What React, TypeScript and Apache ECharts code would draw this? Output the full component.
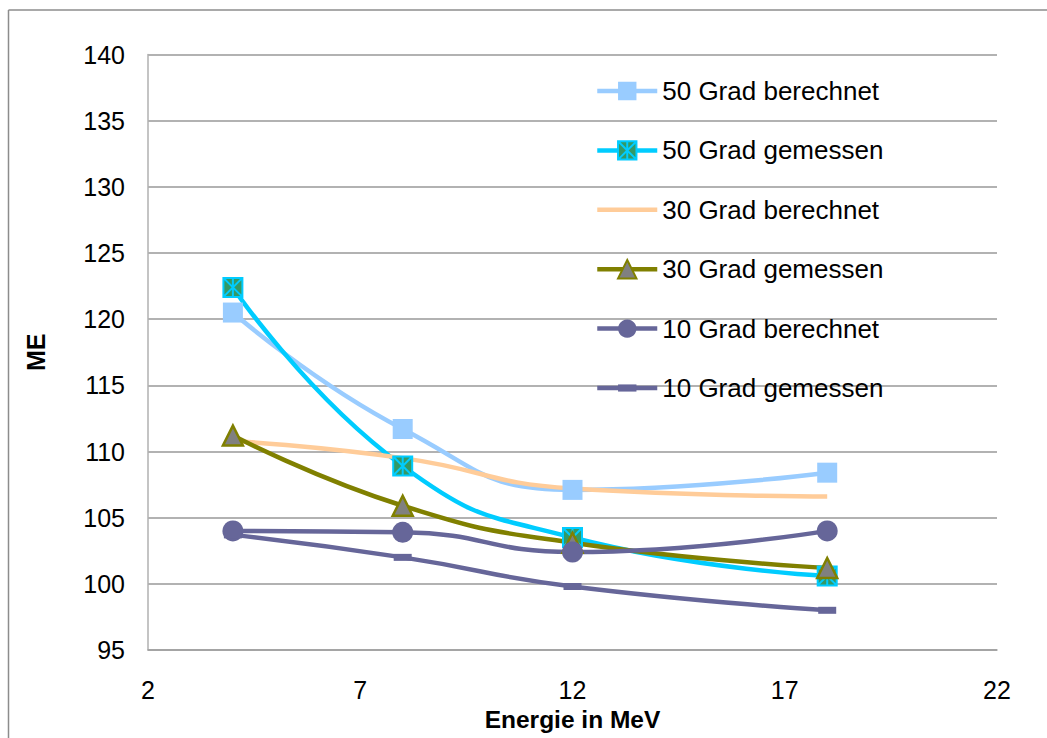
import React, { useEffect, useRef } from "react";
import * as echarts from "echarts";

// Beam energy (MeV) at which each angle was evaluated
const energies = [4, 8, 12, 18];

// ME values per angle, calculated vs. measured
const grad50Berechnet = [120.5, 111.7, 107.1, 108.4];
const grad50Gemessen = [122.4, 108.9, 103.5, 100.6];
const grad30Berechnet = [110.8, 109.5, 107.2, 106.6];
const grad30Gemessen = [111.2, 105.9, 103.1, 101.2];
const grad10Berechnet = [104.0, 103.9, 102.4, 104.0];
const grad10Gemessen = [103.7, 102.0, 99.8, 98.0];

const seriesNames = [
  "50 Grad berechnet",
  "50 Grad gemessen",
  "30 Grad berechnet",
  "30 Grad gemessen",
  "10 Grad berechnet",
  "10 Grad gemessen",
];

const FONT = "'Liberation Sans', Arial, sans-serif";

// square with a cross and a vertical bar (star marker)
const STAR_SQUARE = "path://M0,0H10V10H0Z M0,0L10,10 M10,0L0,10 M5,0V10";
// short horizontal bar centred in a square box (dash marker)
const DASH = "path://M0,0 M18,18 M0,5.5H18V12.5H0Z";
// legend key that is just a plain line across the whole key box
const PLAIN_LINE = "path://M0,0 M60,23 M0,9.25H60V13.75H0Z";

const pairs = (ys: number[]) => energies.map((x, i) => [x, ys[i]]);

export default function App() {
  const ref = useRef<HTMLDivElement>(null);

  useEffect(() => {
    if (!ref.current) return;
    const chart = echarts.init(ref.current, null, { renderer: "svg" });

    const lineW = 4.5;
    const base = {
      type: "line" as const,
      smooth: 0.5,
      z: 2,
    };

    chart.setOption({
      animation: false,
      backgroundColor: "#ffffff",
      textStyle: { fontFamily: FONT },
      grid: { left: 148, right: 50, top: 54.5, bottom: 88 },
      xAxis: {
        type: "value",
        min: 2,
        max: 22,
        interval: 5,
        name: "Energie in MeV",
        nameLocation: "middle",
        nameGap: 51,
        nameTextStyle: { fontFamily: FONT, fontSize: 24.5, fontWeight: "bold", color: "#000" },
        axisLine: { show: true, lineStyle: { color: "#a0a0a0", width: 1.5 } },
        axisTick: { show: false },
        splitLine: { show: false },
        axisLabel: { fontFamily: FONT, fontSize: 25, color: "#000", margin: 27 },
      },
      yAxis: {
        type: "value",
        min: 95,
        max: 140,
        interval: 5,
        name: "ME",
        nameLocation: "middle",
        nameGap: 100,
        nameRotate: 90,
        nameTextStyle: { fontFamily: FONT, fontSize: 25, fontWeight: "bold", color: "#000" },
        axisLine: { show: true, lineStyle: { color: "#b0b0b0", width: 1.5 } },
        axisTick: { show: false },
        splitLine: { show: true, lineStyle: { color: "#999999", width: 1.5 } },
        axisLabel: { fontFamily: FONT, fontSize: 25, color: "#000", margin: 23 },
      },
      legend: {
        orient: "vertical",
        left: 595,
        top: 78,
        padding: 0,
        itemWidth: 60,
        itemHeight: 23,
        itemGap: 33.4,
        data: seriesNames.map((name) =>
          name === "30 Grad berechnet" ? { name, icon: PLAIN_LINE } : { name }
        ),
        lineStyle: { width: lineW },
        textStyle: { fontFamily: FONT, fontSize: 26, color: "#000", lineHeight: 26 },
      },
      graphic: [
        {
          type: "line",
          shape: { x1: 8.5, y1: 10, x2: 8.5, y2: 738 },
          style: { stroke: "#8c8c8c", lineWidth: 1.5 },
          silent: true,
        },
        {
          type: "line",
          shape: { x1: 8.5, y1: 10, x2: 1047, y2: 10 },
          style: { stroke: "#8c8c8c", lineWidth: 1.5 },
          silent: true,
        },
      ],
      series: [
        {
          ...base,
          name: seriesNames[0],
          data: pairs(grad50Berechnet),
          symbol: "rect",
          symbolSize: 20,
          lineStyle: { color: "#99CCFF", width: lineW },
          itemStyle: { color: "#99CCFF", borderWidth: 0 },
        },
        {
          ...base,
          name: seriesNames[1],
          data: pairs(grad50Gemessen),
          symbol: STAR_SQUARE,
          symbolSize: 19,
          lineStyle: { color: "#00CCFF", width: lineW },
          itemStyle: { color: "#339966", borderColor: "#00CCFF", borderWidth: 2 },
        },
        {
          ...base,
          name: seriesNames[2],
          data: pairs(grad30Berechnet),
          symbol: "none",
          lineStyle: { color: "#FFCC99", width: lineW },
          itemStyle: { color: "#FFCC99" },
        },
        {
          ...base,
          name: seriesNames[3],
          data: pairs(grad30Gemessen),
          symbol: "triangle",
          symbolSize: 20,
          lineStyle: { color: "#808000", width: lineW },
          itemStyle: { color: "#808080", borderColor: "#808000", borderWidth: 2.5 },
        },
        {
          ...base,
          name: seriesNames[4],
          data: pairs(grad10Berechnet),
          symbol: "circle",
          symbolSize: 21,
          lineStyle: { color: "#666699", width: lineW },
          itemStyle: { color: "#666699", borderWidth: 0 },
        },
        {
          ...base,
          name: seriesNames[5],
          data: pairs(grad10Gemessen),
          symbol: DASH,
          symbolSize: 18,
          lineStyle: { color: "#666699", width: lineW },
          itemStyle: { color: "#666699", borderWidth: 0 },
        },
      ],
    });

    return () => chart.dispose();
  }, []);

  return (
    <div
      ref={ref}
      style={{ position: "absolute", left: 0, top: 0, width: 1047, height: 738 }}
    />
  );
}
